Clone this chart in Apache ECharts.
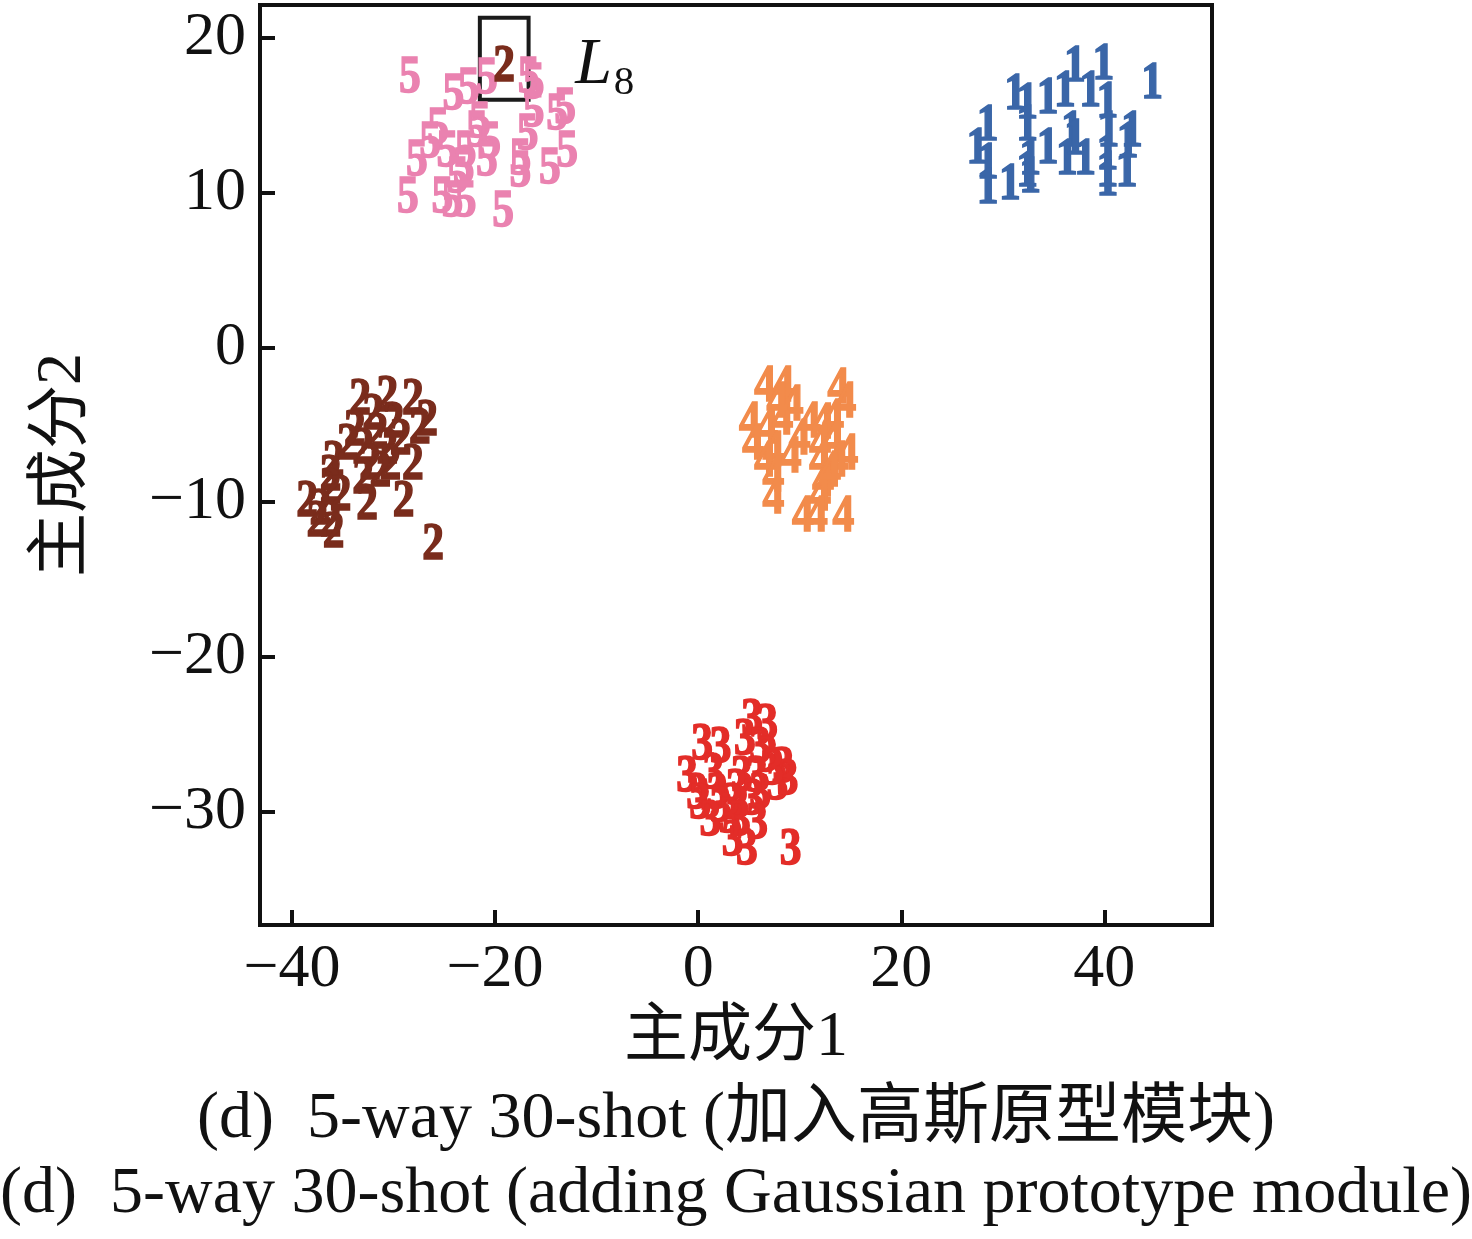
<!DOCTYPE html>
<html><head><meta charset="utf-8">
<script src="https://cdn.jsdelivr.net/npm/echarts@6/dist/echarts.min.js"></script>
<style>html,body{margin:0;padding:0;background:#fff}#c{width:1472px;height:1239px}</style>
</head><body><div id="c"></div>
<script>
const xTicks = [-40, -20, 0, 20, 40];
const yTicks = [-30, -20, -10, 0, 10, 20];
const classLabels = ['1', '2', '3', '4', '5'];
const class1Points = [[37.1,18.3],[39.9,18.4],[44.7,17.2],[31.2,16.5],[32.4,15.9],[34.4,16.2],[36.1,16.7],[38.6,16.7],[40.3,16.0],[28.5,14.5],[32.4,14.5],[36.8,14.1],[40.4,14.1],[42.7,14.1],[27.5,13.0],[34.4,13.0],[36.3,12.3],[38.1,12.3],[32.7,12.3],[40.3,12.6],[42.3,13.4],[28.5,12.0],[32.4,11.5],[40.3,11.5],[42.2,11.5],[28.5,10.4],[30.7,10.7],[40.3,10.9],[37.1,13.6],[32.7,11.1]];
const class2Points = [[-33.3,-3.2],[-30.6,-3.0],[-28.1,-3.2],[-26.7,-4.6],[-33.8,-5.2],[-31.6,-5.4],[-29.3,-5.8],[-27.4,-5.1],[-33.0,-6.4],[-30.6,-6.4],[-28.1,-7.4],[-32.3,-7.4],[-35.9,-7.2],[-36.2,-8.1],[-33.0,-8.3],[-31.3,-7.9],[-36.2,-9.0],[-38.5,-9.8],[-37.2,-10.3],[-32.6,-10.0],[-29.0,-9.8],[-36.2,-11.1],[-35.9,-11.8],[-26.1,-12.6],[-30.0,-4.7],[-34.5,-6.1],[-37.5,-11.1],[-32.0,-4.2],[-35.2,-9.4],[-30.3,-7.4],[-19.1,18.3]];
const class3Points = [[5.3,-23.9],[6.8,-24.2],[0.4,-25.5],[2.2,-25.7],[4.6,-25.2],[6.1,-25.7],[6.8,-26.3],[8.4,-27.0],[-1.1,-27.6],[1.5,-27.4],[4.3,-27.6],[5.8,-27.6],[7.8,-28.1],[8.8,-27.8],[-0.1,-28.7],[1.9,-28.7],[3.8,-28.4],[6.1,-28.7],[0.2,-29.3],[2.2,-29.5],[3.4,-29.3],[5.4,-29.1],[1.2,-30.4],[3.1,-30.2],[4.1,-30.4],[5.8,-30.6],[3.4,-31.7],[4.8,-32.3],[9.1,-32.3],[7.4,-27.1]];
const class4Points = [[6.6,-2.4],[8.4,-2.4],[13.8,-2.5],[9.3,-3.6],[14.5,-3.4],[5.1,-4.7],[6.8,-5.1],[11.0,-4.7],[12.3,-4.8],[13.3,-4.5],[8.3,-4.5],[5.4,-6.1],[7.4,-6.6],[9.1,-7.0],[12.0,-6.1],[13.3,-5.9],[14.7,-6.8],[6.6,-7.2],[12.0,-7.2],[13.7,-7.2],[7.4,-8.2],[12.3,-8.5],[7.4,-9.6],[12.0,-9.4],[10.3,-10.8],[11.7,-10.8],[14.3,-10.8],[10.0,-5.8],[13.0,-7.9],[7.8,-3.4]];
const class5Points = [[-28.4,17.6],[-24.1,16.5],[-22.6,16.9],[-20.8,17.5],[-16.7,17.6],[-16.2,17.2],[-13.1,15.6],[-13.9,15.2],[-16.2,15.4],[-21.5,14.7],[-21.8,14.1],[-25.6,14.3],[-26.4,13.4],[-24.7,12.8],[-27.7,12.2],[-22.9,12.8],[-20.8,12.2],[-17.5,12.3],[-14.6,11.7],[-12.9,12.8],[-16.8,13.9],[-17.5,11.5],[-23.1,11.7],[-23.7,11.1],[-28.6,9.8],[-25.2,9.8],[-24.2,9.6],[-22.9,9.6],[-19.2,8.9],[-20.5,13.4]];
const highlightBox = [[-21.5, 21.3], [-16.7, 16.0]];
const annotationPoint = [[-9.2, 18.2]];

const SERIF = '"Liberation Serif","Times New Roman","Noto Sans CJK SC",serif';
const colors = ['#3a66a8', '#7a2c1c', '#e32d28', '#f28b4b', '#ea82b0'];
const allPoints = [class1Points, class2Points, class3Points, class4Points, class5Points];
const drawOrder = [0, 2, 3, 4, 1];

function digitSeries(i) {
  return {
    type: 'custom', name: classLabels[i], data: allPoints[i],
    silent: true, z: 2 + drawOrder.indexOf(i),
    encode: { x: 0, y: 1 },
    renderItem: function (params, api) {
      const pt = api.coord([api.value(0), api.value(1)]);
      return {
        type: 'text', x: pt[0], y: pt[1], scaleX: 0.82, scaleY: 1,
        style: { text: classLabels[i], x: 0, y: 3, align: 'center', verticalAlign: 'middle',
          font: 'bold 53px ' + SERIF, fill: colors[i], stroke: colors[i], lineWidth: 1.6 }
      };
    }
  };
}
const minusFmt = v => (v < 0 ? '\u2212' : '') + Math.abs(v);

const series = drawOrder.map(digitSeries);
series.push({
  type: 'scatter', data: annotationPoint, symbolSize: 0.1, silent: true, z: 10,
  itemStyle: { color: 'rgba(0,0,0,0)', opacity: 1 },
  label: { show: true, position: 'inside', formatter: '{a|L}{b|8}', opacity: 1,
    lineHeight: 76,
    rich: {
      a: { fontFamily: SERIF, fontStyle: 'italic', fontSize: 66, color: '#111', verticalAlign: 'middle', lineHeight: 76 },
      b: { fontFamily: SERIF, fontSize: 41, color: '#111', verticalAlign: 'bottom', padding: [0, 0, 0, 2] }
    } },
  markArea: {
    silent: true,
    itemStyle: { color: 'rgba(0,0,0,0)', borderColor: '#1a1a1a', borderWidth: 4, opacity: 1 },
    data: [[{ coord: highlightBox[0] }, { coord: highlightBox[1] }]]
  }
});

const chart = echarts.init(document.getElementById('c'), null, { renderer: 'canvas' });
chart.setOption({
  animation: false,
  backgroundColor: '#fff',
  grid: { left: 260, right: 260, top: 5, bottom: 314, show: true, borderColor: '#111', borderWidth: 4, backgroundColor: 'rgba(0,0,0,0)' },
  xAxis: {
    type: 'value', min: -43.15, max: 50.6,
    name: '主成分1', nameLocation: 'middle', nameGap: 80,
    nameTextStyle: { fontFamily: SERIF, fontSize: 64, color: '#111' },
    splitLine: { show: false },
    axisLine: { show: false, onZero: false },
    axisTick: { show: true, inside: true, length: 15, lineStyle: { color: '#111', width: 4 }, customValues: xTicks },
    axisLabel: { fontFamily: SERIF, fontSize: 62, color: '#111', margin: 14, formatter: minusFmt, customValues: xTicks }
  },
  yAxis: {
    type: 'value', min: -37.32, max: 22.13,
    name: '主成分2', nameLocation: 'middle', nameGap: 165,
    nameTextStyle: { fontFamily: SERIF, fontSize: 64, color: '#111' },
    splitLine: { show: false },
    axisLine: { show: false, onZero: false },
    axisTick: { show: true, inside: true, length: 15, lineStyle: { color: '#111', width: 4 }, customValues: yTicks },
    axisLabel: { fontFamily: SERIF, fontSize: 62, color: '#111', margin: 14, formatter: minusFmt, customValues: yTicks }
  },
  graphic: [
    { type: 'text', left: 'center', top: 1087, style: { text: '(d)  5-way 30-shot (加入高斯原型模块)', font: '66px ' + SERIF, fill: '#111' } },
    { type: 'text', left: 'center', top: 1162, style: { text: '(d)  5-way 30-shot (adding Gaussian prototype module)', font: '66px ' + SERIF, fill: '#111' } }
  ],
  series: series
});
</script></body></html>
